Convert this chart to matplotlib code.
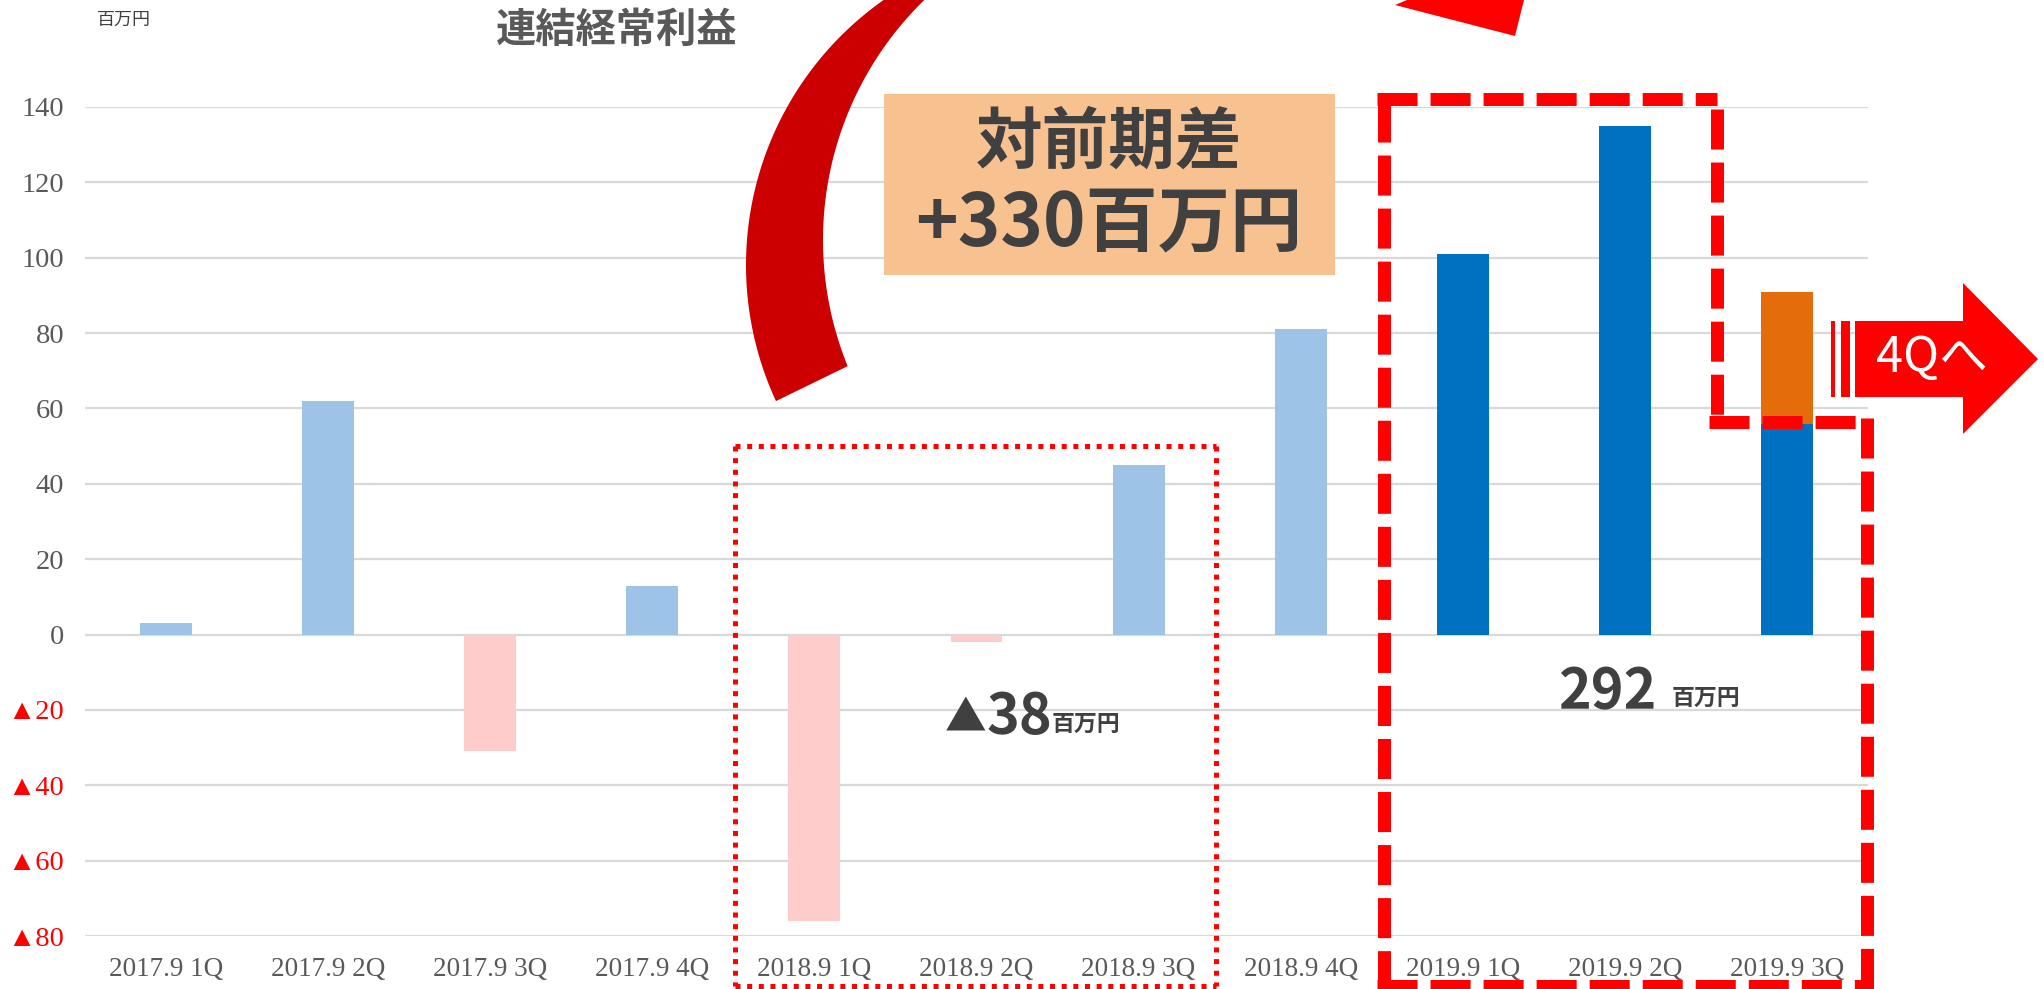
import numpy as np
import matplotlib
matplotlib.use("Agg")
import matplotlib.pyplot as plt
from matplotlib.patches import Polygon, Rectangle
from matplotlib.lines import Line2D

# ---------------- data ----------------
categories = ["2017.9 1Q", "2017.9 2Q", "2017.9 3Q", "2017.9 4Q",
              "2018.9 1Q", "2018.9 2Q", "2018.9 3Q", "2018.9 4Q",
              "2019.9 1Q", "2019.9 2Q", "2019.9 3Q"]
past_values = [3, 62, -31, 13, -76, -2, 45, 81, None, None, None]
current_values = [None] * 8 + [101, 135, 56]
extra_values = [None] * 10 + [35]
y_ticks = [-80, -60, -40, -20, 0, 20, 40, 60, 80, 100, 120, 140]
y_tick_labels = ["▲80", "▲60", "▲40", "▲20", "0", "20", "40", "60", "80", "100", "120", "140"]

W, H = 2044, 989
fig = plt.figure(figsize=(W / 100, H / 100), dpi=100)

CJK = ["Noto Sans CJK JP", "DejaVu Sans"]
SERIF = ["Liberation Serif", "DejaVu Sans"]

# main axes (pixel geometry)
L, R, T, B = 85, 1868, 107, 936
ax = fig.add_axes([L / W, (H - B) / H, (R - L) / W, (B - T) / H])
x = np.arange(len(categories))
bw = 0.32
for i in x:
    v = past_values[i]
    if v is not None:
        ax.bar(i, v, width=bw, color="#9DC3E6" if v >= 0 else "#FFCCCC", zorder=3)
    c = current_values[i]
    if c is not None:
        ax.bar(i, c, width=bw, color="#0070C0", zorder=3)
        e = extra_values[i]
        if e is not None:
            ax.bar(i, e, width=bw, bottom=c, color="#E46C0A", zorder=3)

ax.set_xlim(-0.5, len(categories) - 0.5)
ax.set_ylim(-80, 140)
ax.set_yticks(y_ticks)
ax.set_yticklabels(y_tick_labels, family=SERIF, fontsize=20.5)
for lab, t in zip(ax.get_yticklabels(), y_ticks):
    lab.set_color("#FF0000" if t < 0 else "#595959")
ax.set_xticks(x)
ax.set_xticklabels(categories, family=SERIF, fontsize=19.5, color="#595959")
ax.tick_params(axis="both", length=0)
ax.tick_params(axis="y", pad=15)
ax.tick_params(axis="x", pad=15)
ax.grid(axis="y", color="#D9D9D9", lw=1.6, zorder=0)
ax.set_axisbelow(True)
for s in ax.spines.values():
    s.set_visible(False)

# overlay axes in pixel coordinates for annotations
ov = fig.add_axes([0, 0, 1, 1], zorder=5)
ov.set_xlim(0, W)
ov.set_ylim(H, 0)
ov.axis("off")
ov.patch.set_alpha(0)


def arc(cx, cy, r, p_start, p_end, n=80):
    a0 = np.arctan2(p_start[1] - cy, p_start[0] - cx)
    a1 = np.arctan2(p_end[1] - cy, p_end[0] - cx)
    if a1 - a0 > np.pi:
        a1 -= 2 * np.pi
    if a0 - a1 > np.pi:
        a1 += 2 * np.pi
    a = np.linspace(a0, a1, n)
    return np.column_stack([cx + r * np.cos(a), cy + r * np.sin(a)])


# curved dark red arrow tail (outer arc bottom->top, inner arc top->bottom)
outer = arc(1070, 265, 324, (774, 402), (900, -12))
inner = arc(1158, 240, 335, (935, -12), (848, 366))
poly = np.vstack([outer, inner])
ov.add_patch(Polygon(poly, closed=True, facecolor="#CC0000", edgecolor="none", zorder=4))
# arrow head at top right
ov.add_patch(Polygon([(1395, 5), (1515, 36), (1524, 0), (1526, -10), (1410, -10), (1407, 0)],
                     closed=True, facecolor="#FF0000", edgecolor="none", zorder=4))

# box
ov.add_patch(Rectangle((884, 94), 1335 - 884, 275 - 94, facecolor="#F8C190", edgecolor="none", zorder=4))
ov.text(1109, 143, "対前期差", family=CJK, fontsize=48, fontweight="bold", color="#404040",
        ha="center", va="center", zorder=6)
ov.text(1109, 224, "+330百万円", family=CJK, fontsize=52, fontweight="bold", color="#404040",
        ha="center", va="center", zorder=6)

# texts
ov.text(124, 20, "百万円", family=CJK, fontsize=13, color="#404040", ha="center", va="center")
ov.text(617, 30, "連結経常利益", family=CJK, fontsize=29, fontweight="bold", color="#595959",
        ha="center", va="center")

ov.text(966, 731, "▲", family=CJK, fontsize=30, color="#404040", ha="center", va="baseline")
ov.text(987, 733, "38", family=CJK, fontsize=40, fontweight="bold", color="#404040", ha="left", va="baseline")
ov.text(1052, 731, "百万円", family=CJK, fontsize=16.5, fontweight="bold", color="#404040", ha="left", va="baseline")
ov.text(1558, 708, "292", family=CJK, fontsize=40, fontweight="bold", color="#404040", ha="left", va="baseline")
ov.text(1672, 705, "百万円", family=CJK, fontsize=16.5, fontweight="bold", color="#404040", ha="left", va="baseline")

# dotted rectangle
dot_lw = 5 * 0.72
for (xs, ys) in [([734.5, 1216], [445.5, 445.5]), ([734.5, 734.5], [445.5, 986]),
                 ([1216, 1216], [445.5, 986]), ([734.5, 1216], [986, 986])]:
    ov.add_line(Line2D(xs, ys, color="#FF0000", lw=dot_lw, linestyle=(0, (1, 1.33)),
                       dash_capstyle="butt", zorder=7))

# dashed polygon
dash_lw = 13 * 0.72
for (xs, ys) in [([1377, 1717], [98.5, 98.5]), ([1383.5, 1383.5], [102, 989]),
                 ([1717, 1717], [109, 422]), ([1709, 1861], [422, 422]),
                 ([1867, 1867], [418, 989]), ([1377, 1873], [986, 986])]:
    ov.add_line(Line2D(xs, ys, color="#FF0000", lw=dash_lw, linestyle=(0, (3.08, 1.0)),
                       dash_capstyle="butt", zorder=7))

# 4Q arrow
ov.add_patch(Polygon([(1855, 321), (1963, 321), (1963, 283), (2038, 359), (1963, 434), (1963, 397), (1855, 397)],
                     closed=True, facecolor="#FF0000", edgecolor="none", zorder=7))
ov.add_patch(Rectangle((1831, 321), 4, 76, facecolor="#FF0000", edgecolor="none", zorder=7))
ov.add_patch(Rectangle((1841, 321), 9, 76, facecolor="#FF0000", edgecolor="none", zorder=7))
ov.text(1932, 358, "4Qへ", family=CJK, fontsize=35, color="white", ha="center", va="center", zorder=8)

fig.savefig("out.png", dpi=100)
